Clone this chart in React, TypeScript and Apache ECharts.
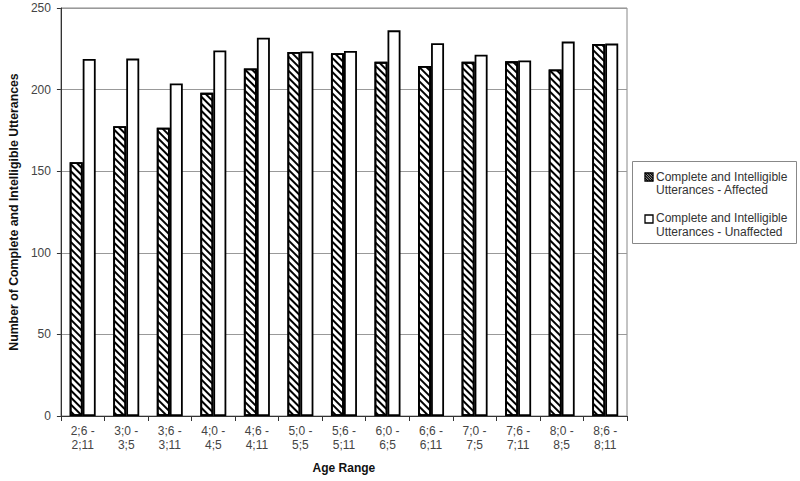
import React, { useEffect, useRef } from "react";
import * as echarts from "echarts";

const categories = [
  "2;6 -\n2;11", "3;0 -\n3;5", "3;6 -\n3;11", "4;0 -\n4;5", "4;6 -\n4;11",
  "5;0 -\n5;5", "5;6 -\n5;11", "6;0 -\n6;5", "6;6 -\n6;11", "7;0 -\n7;5",
  "7;6 -\n7;11", "8;0 -\n8;5", "8;6 -\n8;11",
];
const affected = [155.5, 177.5, 176.7, 198, 213, 223, 222.3, 217, 214.5, 217, 217.3, 212.3, 228];
const unaffected = [218.8, 219, 203.8, 224, 231.8, 223.3, 223.7, 236.3, 228.4, 221.4, 217.8, 229.4, 228.2];
const seriesNames = [
  "Complete and Intelligible Utterances - Affected",
  "Complete and Intelligible Utterances - Unaffected",
];
const legendLabels = [
  "Complete and Intelligible\nUtterances - Affected",
  "Complete and Intelligible\nUtterances - Unaffected",
];
const yTicks = { min: 0, max: 250, interval: 50 };

const FONT = "'Liberation Sans', Arial, sans-serif";

function hatchLines(x0: number, y0: number, s: number) {
  const els: any[] = [];
  for (const d of [-5, -2.5, 0, 2.5, 5]) {
    const a = Math.max(0, d);
    const b = Math.max(0, -d);
    els.push({
      type: "line",
      shape: { x1: x0 + a, y1: y0 + b, x2: x0 + s - b, y2: y0 + s - a },
      style: { stroke: "#000", lineWidth: 1.3 },
      z: 101,
    });
  }
  return els;
}

export default function App() {
  const ref = useRef<HTMLDivElement>(null);
  useEffect(() => {
    if (!ref.current) return;
    const chart = echarts.init(ref.current, null, { renderer: "svg" });
    const lx = 632.5, ly = 161.5, lw = 164, lh = 82;
    const iconSize = 8;
    chart.setOption({
      animation: false,
      backgroundColor: "#fff",
      textStyle: { fontFamily: FONT },
      grid: {
        left: 55, right: 173, top: 8, bottom: 65,
        show: true, borderColor: "#888", borderWidth: 1,
      },
      xAxis: {
        type: "category",
        data: categories,
        name: "Age Range",
        nameLocation: "middle",
        nameGap: 46,
        nameTextStyle: { fontFamily: FONT, fontSize: 12, fontWeight: "bold", color: "#111" },
        axisLine: { lineStyle: { color: "#333", width: 1 } },
        axisTick: { show: true, alignWithLabel: false, length: 5, lineStyle: { color: "#333" } },
        axisLabel: { fontFamily: FONT, fontSize: 12, lineHeight: 14, color: "#444", margin: 8, interval: 0 },
        splitLine: { show: false },
      },
      yAxis: {
        type: "value",
        min: yTicks.min, max: yTicks.max, interval: yTicks.interval,
        name: "Number of Complete and Intelligible Utterances",
        nameLocation: "middle",
        nameGap: 34,
        nameTextStyle: { fontFamily: FONT, fontSize: 12.3, fontWeight: "bold", color: "#111" },
        axisLine: { show: true, lineStyle: { color: "#333", width: 1 } },
        axisTick: { show: true, length: 4, lineStyle: { color: "#333" } },
        axisLabel: { fontFamily: FONT, fontSize: 12, color: "#444", margin: 10 },
        splitLine: { show: true, lineStyle: { color: "#999", width: 1 } },
      },
      series: [
        {
          name: seriesNames[0],
          type: "bar",
          data: affected,
          barWidth: 13,
          barGap: "0%",
          itemStyle: {
            color: "#fff",
            borderColor: "#000",
            borderWidth: 1.8,
            decal: {
              symbol: "rect",
              symbolSize: 1,
              dashArrayX: [1, 0],
              dashArrayY: [1.6, 2.4],
              rotation: Math.PI / 4,
              color: "#000",
            },
          },
        },
        {
          name: seriesNames[1],
          type: "bar",
          data: unaffected,
          barWidth: 13,
          barGap: "0%",
          itemStyle: { color: "#fff", borderColor: "#000", borderWidth: 1.8 },
        },
      ],
      graphic: [
        {
          type: "rect",
          shape: { x: lx, y: ly, width: lw, height: lh },
          style: { fill: "#fff", stroke: "#888", lineWidth: 1 },
          z: 100,
        },
        {
          type: "rect",
          shape: { x: 645, y: 173, width: iconSize, height: iconSize },
          style: { fill: "#fff", stroke: "#000", lineWidth: 1.3 },
          z: 101,
        },
        ...hatchLines(645, 173, iconSize),
        {
          type: "text",
          x: 656, y: 170,
          style: { text: legendLabels[0], font: `12px ${FONT}`, lineHeight: 13.5, fill: "#333", verticalAlign: "top" },
          z: 101,
        },
        {
          type: "rect",
          shape: { x: 645, y: 215, width: iconSize, height: iconSize },
          style: { fill: "#fff", stroke: "#000", lineWidth: 1.3 },
          z: 101,
        },
        {
          type: "text",
          x: 656, y: 211.5,
          style: { text: legendLabels[1], font: `12px ${FONT}`, lineHeight: 13.5, fill: "#333", verticalAlign: "top" },
          z: 101,
        },
      ],
    });
    return () => chart.dispose();
  }, []);
  return (
    <div
      ref={ref}
      style={{ position: "fixed", left: 0, top: 0, width: 800, height: 481, background: "#fff" }}
    />
  );
}
